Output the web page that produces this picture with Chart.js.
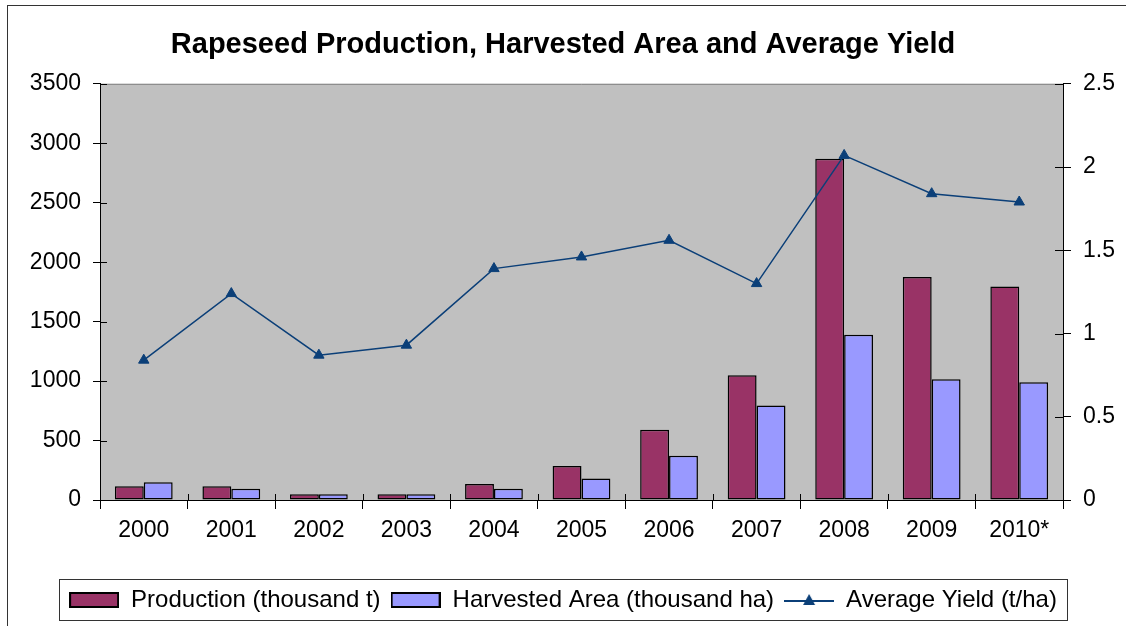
<!DOCTYPE html>
<html>
<head>
<meta charset="utf-8">
<script src="https://cdn.jsdelivr.net/npm/chart.js@4"></script>
<style>
  html, body { margin: 0; padding: 0; background: #fff; }
  #wrap { width: 1126px; height: 626px; }
</style>
</head>
<body>
<div id="wrap"><canvas id="chart" width="1126" height="626"></canvas></div>
<script>
// ---- data ----
const years = ["2000", "2001", "2002", "2003", "2004", "2005", "2006", "2007", "2008", "2009", "2010*"];
const production = [115, 115, 48, 48, 135, 285, 590, 1050, 2870, 1875, 1795];   // thousand t
const harvestedArea = [150, 95, 48, 48, 95, 180, 372, 795, 1390, 1015, 990];     // thousand ha
const avgYield = [0.84, 1.24, 0.87, 0.93, 1.39, 1.46, 1.56, 1.30, 2.07, 1.84, 1.79]; // t/ha

const leftTicks = { min: 0, max: 3500, step: 500 };
const rightTicks = { min: 0, max: 2.5, step: 0.5 };

const PROD_COLOR = "#993366";
const AREA_COLOR = "#9999FF";
const LINE_COLOR = "#0B3F78";
const FONT = "'Liberation Sans', Arial, sans-serif";

Chart.defaults.font.family = FONT;
Chart.defaults.color = "#000";

// =========================
// Legend icons
// =========================

function swatch(fill) {
    const c = document.createElement("canvas");
    c.width = 50; c.height = 16;
    const g = c.getContext("2d");
    g.fillStyle = fill;
    g.fillRect(1, 1, 48, 14);
    g.strokeStyle = "#000";
    g.lineWidth = 2;
    g.strokeRect(1, 1, 48, 14);
    return c;
}

function lineIcon() {
    const c = document.createElement("canvas");
    c.width = 50; c.height = 16;
    const g = c.getContext("2d");
    g.strokeStyle = LINE_COLOR;
    g.lineWidth = 2;
    g.beginPath(); g.moveTo(0, 9); g.lineTo(50, 9); g.stroke();
    g.fillStyle = LINE_COLOR;
    g.beginPath(); g.moveTo(25, 2); g.lineTo(31, 13); g.lineTo(19, 13); g.closePath(); g.fill();
    return c;
}

const legendIcons = [swatch(PROD_COLOR), swatch(AREA_COLOR), lineIcon()];

// =========================
// Plugins
// =========================

const excelFrame = {
    id: "excelFrame",
    beforeDraw(chart) {
        const {ctx, chartArea: a} = chart;
        ctx.save();
        ctx.fillStyle = "#C0C0C0";
        ctx.fillRect(a.left, a.top, a.right - a.left, a.bottom - a.top);
        ctx.strokeStyle = "#808080";
        ctx.lineWidth = 1;
        ctx.beginPath();
        ctx.moveTo(a.left, a.top + 0.5);
        ctx.lineTo(a.right, a.top + 0.5);
        ctx.stroke();
        // outer chart border
        ctx.strokeStyle = "#333";
        ctx.strokeRect(7.5, 5.5, 1140, 640);
        ctx.restore();
    },
    afterDraw(chart) {
        const {ctx, chartArea: a, scales} = chart;
        ctx.save();
        ctx.strokeStyle = "#000";
        ctx.lineWidth = 1;
        ctx.beginPath();
        // inner halves of the crossing tick marks
        scales.y.ticks.forEach(t => {
            const py = Math.round(scales.y.getPixelForValue(t.value)) + 0.5;
            ctx.moveTo(a.left, py); ctx.lineTo(a.left + 7, py);
        });
        scales.y1.ticks.forEach(t => {
            const py = Math.round(scales.y1.getPixelForValue(t.value)) + 0.5;
            ctx.moveTo(a.right - 8, py); ctx.lineTo(a.right, py);
        });
        const half = (scales.x.getPixelForValue(1) - scales.x.getPixelForValue(0)) / 2;
        for (let i = 0; i <= years.length; i++) {
            const px = Math.round(scales.x.getPixelForValue(i) - half) + 0.5;
            ctx.moveTo(px, a.bottom - 6); ctx.lineTo(px, a.bottom);
        }
        ctx.stroke();

        // legend frame
        const boxes = chart.legend.legendHitBoxes;
        if (boxes && boxes.length) {
            const l = Math.min(...boxes.map(b => b.left)) - 10;
            const r = Math.max(...boxes.map(b => b.left + b.width)) + 10;
            const t = chart.legend.top + 1;
            const b = chart.legend.bottom - 2;
            ctx.strokeStyle = "#333";
            ctx.strokeRect(Math.round(l) + 0.5, Math.round(t) + 0.5, Math.round(r - l), Math.round(b - t));
        }
        ctx.restore();
    }
};

const plainNumber = value => String(value);

// =========================
// Chart
// =========================

new Chart(document.getElementById("chart"), {
    type: "bar",
    data: {
        labels: years,
        datasets: [
            {
                label: "Production (thousand t)",
                data: production,
                backgroundColor: PROD_COLOR,
                borderColor: "#000",
                borderWidth: 1.5,
                borderSkipped: false,
                yAxisID: "y",
                order: 1,
                categoryPercentage: 0.66,
                barPercentage: 1.0
            },
            {
                label: "Harvested Area (thousand ha)",
                data: harvestedArea,
                backgroundColor: AREA_COLOR,
                borderColor: "#000",
                borderWidth: 1.5,
                borderSkipped: false,
                yAxisID: "y",
                order: 1,
                categoryPercentage: 0.66,
                barPercentage: 1.0
            },
            {
                type: "line",
                label: "Average Yield (t/ha)",
                data: avgYield,
                borderColor: LINE_COLOR,
                backgroundColor: LINE_COLOR,
                borderWidth: 1.5,
                pointStyle: "triangle",
                pointRadius: 6,
                pointBorderWidth: 1,
                tension: 0,
                yAxisID: "y1",
                order: 0
            }
        ]
    },
    options: {
        responsive: false,
        animation: false,
        layout: { padding: { left: 0, right: 0, top: 0, bottom: 4 } },
        plugins: {
            title: {
                display: true,
                text: "Rapeseed Production, Harvested Area and Average Yield",
                font: { size: 29, weight: "bold", family: FONT },
                color: "#000",
                padding: { top: 28, bottom: 21 }
            },
            legend: {
                position: "bottom",
                labels: {
                    usePointStyle: true,
                    pointStyleWidth: 50,
                    boxHeight: 16,
                    padding: 10,
                    color: "#000",
                    font: { size: 24, family: FONT },
                    sort: (a, b) => a.datasetIndex - b.datasetIndex,
                    generateLabels(chart) {
                        const items = Chart.defaults.plugins.legend.labels.generateLabels(chart);
                        items.forEach(it => { it.pointStyle = legendIcons[it.datasetIndex]; });
                        return items;
                    }
                }
            },
            tooltip: { enabled: false }
        },
        scales: {
            x: {
                offset: true,
                grid: { offset: true, drawOnChartArea: false, drawTicks: true, tickLength: 9, color: "#000" },
                border: { color: "#000", width: 1 },
                ticks: { font: { size: 23 }, color: "#000", padding: 8, maxRotation: 0, autoSkip: false },
                afterFit(scale) { scale.height = 78; }
            },
            y: {
                position: "left",
                min: leftTicks.min,
                max: leftTicks.max,
                ticks: { stepSize: leftTicks.step, font: { size: 23 }, color: "#000", padding: 12, callback: plainNumber },
                grid: { drawOnChartArea: false, drawTicks: true, tickLength: 7, color: "#000" },
                border: { color: "#000", width: 1 },
                afterFit(scale) { scale.width = 100; }
            },
            y1: {
                position: "right",
                min: rightTicks.min,
                max: rightTicks.max,
                ticks: { stepSize: rightTicks.step, font: { size: 23 }, color: "#000", padding: 12, callback: plainNumber },
                grid: { drawOnChartArea: false, drawTicks: true, tickLength: 8, color: "#000" },
                border: { color: "#000", width: 1 },
                afterFit(scale) { scale.width = 63; }
            }
        }
    },
    plugins: [excelFrame]
});
</script>
</body>
</html>
